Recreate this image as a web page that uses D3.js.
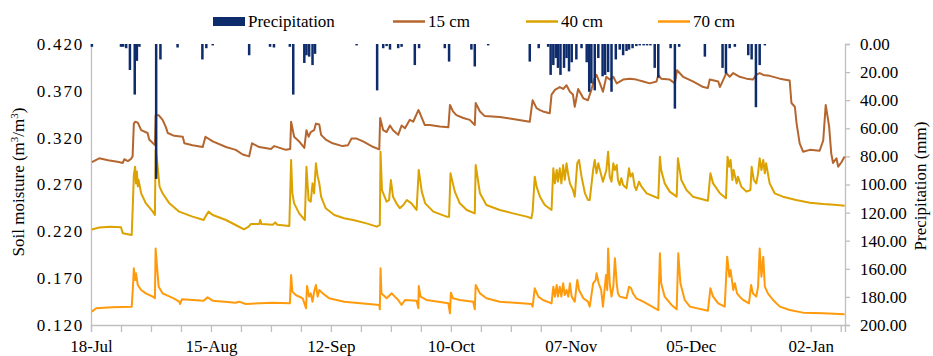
<!DOCTYPE html>
<html>
<head>
<meta charset="utf-8">
<script src="https://cdn.jsdelivr.net/npm/d3@7"></script>
<style>
  body { margin: 0; background: #fff; }
  svg text { font-family: "Liberation Serif", "Times New Roman", Times, "DejaVu Serif", serif; fill: #000; }
  .axis path, .axis line { stroke: #bfbfbf; stroke-width: 1.3; }
  .axis text { font-size: 17px; }
  .axis-y text { letter-spacing: 1.8px; }
</style>
</head>
<body>
<div id="chart"></div>
<script>
// days counted from 18-Jul
const startDate = new Date(Date.UTC(2017, 6, 18));
const lastDay = 176;

const xLabels = ['18-Jul', '15-Aug', '12-Sep', '10-Oct', '07-Nov', '05-Dec', '02-Jan'];
const moistTicks = [0.12, 0.17, 0.22, 0.27, 0.32, 0.37, 0.42];
const precipTicks = [0, 20, 40, 60, 80, 100, 120, 140, 160, 180, 200];

// [day, mm]
const precip = [[0.2,2],[7.0,2],[7.5,2],[8.2,3],[9.1,18.5],[10.2,36],[10.7,12],[11.3,2],[15.2,96],[16.2,11],
  [20.2,2.5],[26.0,11],[26.9,3],[28.4,1],[36.9,8],[41.8,2],[42.7,2.5],[46.4,2],[47.2,36],[49.8,13.5],
  [50.3,8],[50.9,9],[51.7,15],[52.3,7],[62.0,1],[66.8,33],[68.2,3],[69.0,1.5],[69.8,4],[71.7,3],
  [72.5,2],[75.6,15],[76.6,3],[82.6,3],[83.6,12.5],[88.8,4],[89.6,16],[92.7,1],[102.4,12.5],[104.5,3],
  [106.7,2],[107.3,22],[107.9,15],[108.5,10],[109.0,17],[109.6,22],[110.4,17],[111.0,10],[111.6,19.5],[112.2,13],
  [113.3,11],[114.5,3],[115.7,13],[116.3,34],[116.8,28],[117.6,33],[118.4,10],[119.4,23],[120.0,22],[120.7,20],
  [121.5,34],[122.5,11],[123.4,4],[124.2,8],[125.0,5],[125.6,4],[126.4,3],[127.3,1.5],[128.1,1],[129.0,1],
  [129.8,1],[130.6,1],[131.6,17],[132.4,24],[135.3,3],[136.3,46],[137.3,2],[143.3,9],[147.4,17],[148.2,21],
  [149.1,3],[150.3,2],[153.4,8],[154.2,11],[155.2,45],[156.1,15],[157.3,1]];

// [day, m3/m3]
const soil15 = [[0.2,0.294],[1.9,0.298],[4.0,0.296],[6.5,0.294],[7.4,0.293],[7.8,0.297],[8.6,0.295],[9.3,0.297],[9.7,0.300],
  [10.0,0.335],[10.3,0.337],[10.9,0.336],[11.7,0.328],[13.2,0.325],[13.6,0.318],[14.9,0.312],[15.1,0.344],[15.8,0.344],
  [16.7,0.339],[17.5,0.331],[17.9,0.325],[19.4,0.322],[21.4,0.321],[21.8,0.314],[23.7,0.312],[26.1,0.310],[26.7,0.321],
  [28.4,0.316],[31.5,0.310],[33.8,0.307],[35.4,0.302],[36.9,0.300],[37.6,0.314],[39.3,0.310],[42.0,0.308],[42.8,0.311],
  [45.5,0.307],[46.5,0.308],[46.7,0.337],[47.4,0.321],[48.6,0.316],[49.8,0.309],[50.3,0.328],[50.8,0.321],[51.3,0.326],
  [52.1,0.328],[52.5,0.335],[53.3,0.334],[53.7,0.323],[54.8,0.318],[56.4,0.314],[58.7,0.311],[60.0,0.312],[60.8,0.319],
  [62.0,0.319],[63.5,0.316],[65.9,0.310],[67.3,0.3075],[67.5,0.341],[68.2,0.328],[69.0,0.326],[69.8,0.333],[70.5,0.328],
  [71.7,0.323],[72.5,0.333],[73.3,0.330],[74.4,0.339],[75.2,0.337],[76.4,0.3495],[76.8,0.346],[77.9,0.3335],[79.1,0.3335],
  [81.4,0.332],[83.4,0.331],[83.8,0.355],[84.5,0.348],[85.3,0.344],[86.9,0.341],[88.4,0.339],[89.6,0.3335],[89.8,0.357],
  [90.8,0.348],[91.9,0.343],[95.4,0.342],[98.5,0.340],[102.4,0.337],[103.1,0.360],[104.0,0.3515],[104.8,0.3495],[105.5,0.348],
  [107.1,0.346],[107.5,0.366],[108.3,0.371],[109.4,0.374],[110.2,0.372],[111.0,0.376],[111.8,0.369],[112.5,0.366],[112.9,0.353],
  [113.7,0.372],[114.9,0.362],[116.0,0.360],[116.8,0.371],[117.4,0.382],[118.0,0.387],[118.8,0.378],[119.5,0.369],[120.3,0.385],
  [121.1,0.382],[121.9,0.385],[122.7,0.378],[124.2,0.382],[125.8,0.383],[127.3,0.382],[128.9,0.380],[130.4,0.378],[132.0,0.380],
  [132.4,0.387],[133.1,0.383],[135.1,0.382],[136.3,0.378],[136.8,0.392],[138.2,0.385],[140.5,0.380],[142.9,0.374],[144.0,0.373],
  [144.4,0.382],[146.4,0.380],[146.8,0.374],[147.2,0.378],[148.3,0.389],[149.1,0.385],[149.9,0.389],[151.4,0.385],[153.0,0.383],
  [154.5,0.382],[155.3,0.387],[156.1,0.389],[156.9,0.387],[158.4,0.386],[160.8,0.383],[163.1,0.381],[163.5,0.357],[164.3,0.353],
  [164.7,0.335],[165.4,0.314],[166.2,0.305],[167.8,0.307],[170.1,0.306],[170.9,0.317],[171.5,0.355],[172.3,0.332],[172.8,0.303],
  [173.2,0.293],[174.0,0.298],[174.4,0.289],[175.2,0.294],[175.9,0.300]];

const soil40 = [[0.2,0.222],[1.9,0.224],[4.5,0.225],[7.0,0.2243],[7.4,0.218],[9.5,0.216],[9.8,0.2517],[10.0,0.280],[10.3,0.289],
  [10.5,0.2712],[10.7,0.284],[10.9,0.268],[11.1,0.275],[11.7,0.2606],[12.8,0.250],[14.4,0.241],[14.9,0.2375],[15.1,0.3068],
  [15.4,0.296],[16.0,0.2677],[16.7,0.2606],[18.3,0.2499],[20.6,0.241],[23.7,0.2357],[26.3,0.2321],[26.7,0.2357],[27.4,0.241],
  [28.4,0.2375],[31.5,0.2321],[34.2,0.2257],[35.7,0.2222],[36.8,0.2250],[37.3,0.2278],[39.3,0.2278],[39.5,0.232],[39.8,0.2278],
  [42.4,0.227],[43.0,0.2295],[43.5,0.227],[46.3,0.2257],[46.7,0.2962],[47.0,0.2606],[47.4,0.2499],[48.6,0.2392],[49.9,0.2321],
  [50.3,0.289],[50.8,0.2535],[51.3,0.2517],[51.7,0.2712],[52.1,0.2606],[52.5,0.2926],[52.9,0.2784],[53.3,0.2712],[53.7,0.257],
  [54.8,0.2446],[56.8,0.2375],[59.1,0.2339],[61.2,0.2321],[64.3,0.2285],[66.7,0.225],[67.4,0.2268],[67.6,0.305],[67.9,0.2641],
  [69.0,0.2517],[69.6,0.2535],[70.0,0.2748],[70.5,0.257],[71.3,0.2499],[72.1,0.2446],[72.9,0.2481],[73.7,0.2535],[74.8,0.2499],
  [76.0,0.2428],[76.5,0.2855],[77.2,0.2624],[78.0,0.2499],[79.9,0.241],[83.0,0.2357],[83.6,0.2357],[83.9,0.2819],[84.9,0.2624],
  [86.1,0.2499],[87.7,0.2428],[89.6,0.2392],[89.8,0.2908],[90.8,0.2606],[92.3,0.2481],[95.4,0.2428],[98.5,0.2392],[101.7,0.2357],
  [102.8,0.2339],[103.1,0.241],[103.6,0.2784],[104.0,0.2677],[104.8,0.257],[105.9,0.2481],[107.5,0.2428],[107.9,0.2873],
  [108.3,0.2712],[108.7,0.2855],[109.0,0.273],[109.4,0.2873],[109.8,0.2712],[110.2,0.2908],[110.6,0.275],[111.0,0.2926],
  [111.4,0.28],[111.8,0.2712],[112.5,0.2641],[112.9,0.257],[113.5,0.2926],[113.9,0.2962],[114.5,0.2784],[115.3,0.2606],
  [116.0,0.2535],[116.4,0.2535],[117.2,0.2855],[117.6,0.2962],[118.0,0.282],[118.4,0.2926],[118.8,0.2855],[119.5,0.273],
  [120.3,0.2855],[120.7,0.305],[121.1,0.2784],[121.5,0.273],[121.9,0.2926],[122.3,0.2855],[122.7,0.2908],[123.0,0.275],
  [123.4,0.2694],[123.8,0.2766],[124.2,0.2694],[125.0,0.2659],[125.6,0.2873],[125.9,0.2784],[126.4,0.2819],[126.9,0.2677],
  [127.3,0.2641],[127.9,0.273],[128.5,0.2677],[129.7,0.2606],[132.4,0.2553],[132.8,0.2997],[133.1,0.2855],[133.9,0.2712],
  [135.1,0.2624],[136.7,0.257],[137.0,0.2979],[137.8,0.2748],[139.0,0.2641],[140.5,0.257],[144.0,0.2527],[144.6,0.2819],
  [145.2,0.2712],[146.8,0.2606],[148.2,0.2553],[148.6,0.2997],[149.0,0.2890],[149.3,0.2962],[149.7,0.2748],[150.0,0.2855],
  [150.7,0.2712],[151.0,0.2784],[151.8,0.2677],[153.0,0.2624],[153.9,0.2641],[154.2,0.289],[154.7,0.2748],[155.3,0.2712],
  [155.7,0.2819],[156.1,0.2979],[156.5,0.2855],[156.9,0.2962],[157.3,0.2819],[157.6,0.2926],[158.4,0.2712],[159.6,0.2606],
  [161.5,0.257],[164.6,0.2535],[167.8,0.2506],[170.9,0.2492],[173.5,0.2485],[175.9,0.2474]];

const soil70 = [[0.2,0.1343],[1.2,0.1378],[5.0,0.1389],[9.5,0.1396],[9.8,0.1609],[10.0,0.1805],[10.3,0.1680],[10.5,0.1752],
  [10.9,0.1627],[11.7,0.1574],[12.8,0.1538],[14.4,0.1503],[14.9,0.1485],[15.1,0.2018],[15.4,0.1823],[15.8,0.1609],[16.7,0.1538],
  [19.3,0.1485],[20.6,0.1449],[20.8,0.1424],[21.2,0.1474],[26.3,0.146],[27.2,0.1495],[28.4,0.146],[33.8,0.1438],[34.6,0.1449],
  [36.1,0.1424],[42.4,0.1438],[46.4,0.1431],[46.7,0.1734],[47.0,0.1556],[47.8,0.152],[49.4,0.1485],[50.2,0.1378],[50.4,0.1617],
  [50.9,0.1503],[51.3,0.1538],[51.7,0.1449],[52.1,0.1556],[52.5,0.1627],[52.9,0.1503],[53.3,0.1574],[54.1,0.1538],[55.6,0.1485],
  [59.1,0.1449],[62.9,0.1431],[67.3,0.1414],[67.4,0.1367],[67.6,0.1805],[67.8,0.1538],[69.0,0.1485],[69.8,0.152],[70.2,0.1538],
  [70.9,0.1503],[71.7,0.1467],[72.5,0.1414],[73.3,0.1467],[76.0,0.146],[76.4,0.1378],[76.5,0.1617],[76.9,0.1503],[78.3,0.1467],
  [83.4,0.1431],[83.8,0.1325],[84.0,0.1545],[84.5,0.1485],[86.1,0.1467],[89.2,0.1449],[89.6,0.1367],[89.8,0.1627],[90.8,0.1538],
  [92.3,0.1485],[95.4,0.1449],[102.8,0.1424],[103.1,0.1396],[103.6,0.1592],[104.4,0.1503],[105.5,0.1467],[107.5,0.1431],
  [107.9,0.1609],[108.3,0.1503],[108.7,0.1627],[109.0,0.1503],[109.4,0.1609],[109.8,0.1503],[110.2,0.1645],[110.6,0.152],
  [111.0,0.1574],[111.4,0.1503],[111.8,0.1645],[112.2,0.1503],[112.9,0.1449],[113.5,0.168],[113.9,0.1574],[114.9,0.1485],
  [116.0,0.1449],[116.4,0.1396],[117.2,0.1645],[117.8,0.1680],[118.0,0.1752],[118.5,0.1645],[119.1,0.1574],[119.5,0.1396],
  [120.2,0.1734],[120.5,0.1574],[120.7,0.2018],[121.1,0.1645],[121.5,0.1503],[121.9,0.1609],[122.3,0.1912],[122.7,0.1645],
  [123.0,0.1538],[123.4,0.1503],[125.0,0.1485],[125.6,0.1609],[126.1,0.1592],[126.5,0.1538],[127.3,0.1485],[128.9,0.1449],
  [132.4,0.136],[132.8,0.1965],[133.1,0.1645],[133.9,0.1503],[135.5,0.1414],[136.7,0.1367],[137.1,0.1965],[137.6,0.1645],
  [138.6,0.1467],[139.8,0.1396],[144.0,0.1353],[144.6,0.1592],[145.2,0.1503],[146.4,0.1431],[147.9,0.1396],[148.5,0.1929],
  [149.0,0.1716],[149.3,0.1787],[149.9,0.1574],[150.3,0.1645],[150.8,0.1538],[151.4,0.1503],[152.2,0.1467],[153.6,0.1431],
  [154.1,0.1627],[154.5,0.1538],[155.3,0.1503],[155.7,0.1609],[156.1,0.2018],[156.5,0.1716],[156.9,0.1929],[157.3,0.1609],
  [158.0,0.1538],[159.2,0.1467],[160.8,0.1396],[163.1,0.136],[166.2,0.1332],[170.9,0.1325],[175.9,0.1314]];

const colors = { precip: '#0e2c6c', s15: '#b4662e', s40: '#dba200', s70: '#ff9a0c' };
const serif = '"Liberation Serif", "Times New Roman", Times, "DejaVu Serif", serif';

const W = 933, H = 356;
const margin = { top: 44, right: 88, bottom: 31, left: 91 };
const width = W - margin.left - margin.right;
const height = H - margin.top - margin.bottom;

const day = d => d3.utcHour.offset(startDate, Math.round(d * 24));

const svg = d3.select('#chart').append('svg')
  .attr('width', W).attr('height', H)
  .attr('font-family', serif);
const chart = svg.append('g').attr('transform', `translate(${margin.left},${margin.top})`);

const x = d3.scaleUtc().domain([startDate, day(lastDay)]).range([0, width]);
const y = d3.scaleLinear().domain([0.12, 0.42]).range([height, 0]);
const yP = d3.scaleLinear().domain([0, 200]).range([0, height]);

// axes
const weekTicks = d3.range(0, lastDay, 7).map(day);
const xAxis = chart.append('g')
  .attr('class', 'axis axis-x')
  .attr('transform', `translate(0,${height})`)
  .call(d3.axisBottom(x).tickValues(weekTicks).tickSize(7).tickPadding(8)
    .tickFormat((d, i) => (i % 4 === 0 ? xLabels[i / 4] : '')));

const yAxis = chart.append('g')
  .attr('class', 'axis axis-y')
  .call(d3.axisLeft(y).tickValues(moistTicks).tickFormat(d3.format('.3f')).tickSize(0).tickPadding(7));

const pAxis = chart.append('g')
  .attr('class', 'axis axis-p')
  .attr('transform', `translate(${width},0)`)
  .call(d3.axisRight(yP).tickValues(precipTicks).tickFormat(d3.format('.2f')).tickSize(5).tickPadding(10));

// d3 axes put font-family="sans-serif" on their groups
[xAxis, yAxis, pAxis].forEach(a => a.attr('font-family', serif).attr('font-size', 17));

// soil moisture lines
const line = d3.line().x(d => x(day(d[0]))).y(d => y(d[1]));
[[soil70, colors.s70], [soil40, colors.s40], [soil15, colors.s15]].forEach(([data, c]) => {
  chart.append('path')
    .datum(data)
    .attr('fill', 'none')
    .attr('stroke', c)
    .attr('stroke-width', 2)
    .attr('stroke-linejoin', 'round')
    .attr('d', line);
});

// precipitation hanging from the top
chart.append('g')
  .selectAll('rect')
  .data(precip)
  .enter().append('rect')
    .attr('x', d => x(day(d[0])) - 1.25)
    .attr('y', yP(0))
    .attr('width', 2.5)
    .attr('height', d => yP(d[1]) - yP(0))
    .attr('fill', colors.precip);

// axis titles
const leftTitle = svg.append('text')
  .attr('transform', 'translate(24,182) rotate(-90)')
  .attr('text-anchor', 'middle')
  .style('font-size', '17px');
leftTitle.append('tspan').text('Soil moisture (m');
leftTitle.append('tspan').attr('baseline-shift', 'super').style('font-size', '11px').text('3');
leftTitle.append('tspan').text('/m');
leftTitle.append('tspan').attr('baseline-shift', 'super').style('font-size', '11px').text('3');
leftTitle.append('tspan').text(')');

svg.append('text')
  .attr('transform', 'translate(926,186) rotate(-90)')
  .attr('text-anchor', 'middle')
  .style('font-size', '17px')
  .text('Precipitation (mm)');

// legend
const legend = svg.append('g').style('font-size', '17px');
legend.append('rect').attr('x', 213).attr('y', 17).attr('width', 32).attr('height', 9).attr('fill', colors.precip);
legend.append('text').attr('x', 248).attr('y', 27).text('Precipitation');
[['15 cm', colors.s15, 393], ['40 cm', colors.s40, 526], ['70 cm', colors.s70, 658]].forEach(([label, c, lx]) => {
  legend.append('line').attr('x1', lx).attr('x2', lx + 32).attr('y1', 21.5).attr('y2', 21.5)
    .attr('stroke', c).attr('stroke-width', 2.5);
  legend.append('text').attr('x', lx + 35).attr('y', 27).text(label);
});
</script>
</body>
</html>
